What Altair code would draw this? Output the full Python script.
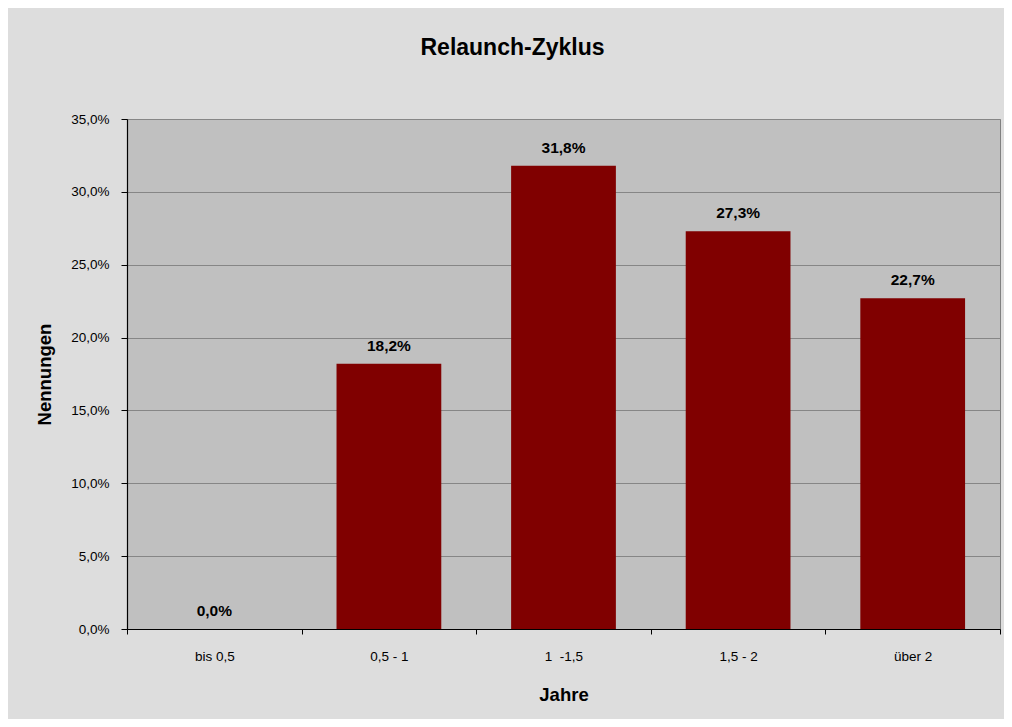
import altair as alt
import pandas as pd

categories = ["bis 0,5", "0,5 - 1", "1\u00a0 -1,5", "1,5 - 2", "über 2"]
values = [0.0, 18.2, 31.8, 27.3, 22.7]
y_ticks = [0, 5, 10, 15, 20, 25, 30, 35]

labels = [f"{v:.1f}".replace(".", ",") + "%" for v in values]
df = pd.DataFrame({"cat": categories, "val": values, "lab": labels})

FONT = "Liberation Sans"

x_enc = alt.X("cat:N", sort=categories,
              scale=alt.Scale(paddingInner=0, paddingOuter=0),
              axis=alt.Axis(title="Jahre", labelAngle=0, tickBand="extent",
                            labelFontSize=13.5, labelFont=FONT, labelColor="#000000",
                            labelPadding=15, tickSize=5, tickColor="#000000",
                            domainColor="#000000", domainWidth=1.2,
                            titleFontSize=18.5, titleFont=FONT, titleFontWeight="bold",
                            titleColor="#000000", titlePadding=23, grid=False))
y_enc = alt.Y("val:Q", scale=alt.Scale(domain=[0, 35], nice=False),
              axis=alt.Axis(title="Nennungen", values=y_ticks,
                            labelExpr="replace(format(datum.value, '.1f'), '.', ',') + '%'",
                            labelFontSize=13.5, labelFont=FONT, labelColor="#000000",
                            labelPadding=12, tickSize=6, tickColor="#000000",
                            domainColor="#000000", domainWidth=1.2,
                            grid=True, gridColor="#868686", gridWidth=1,
                            titleFontSize=18.5, titleFont=FONT, titleFontWeight="bold",
                            titleColor="#000000", titlePadding=16))

bars = alt.Chart(df).mark_bar(color="#800000", width=alt.RelativeBandSize(0.6)).encode(x=x_enc, y=y_enc)
text = alt.Chart(df).mark_text(font=FONT, fontSize=15.5, fontWeight="bold",
                               color="#000000", baseline="alphabetic", dy=-13).encode(
    x=alt.X("cat:N", sort=categories), y="val:Q", text="lab:N")

chart = alt.layer(bars, text).properties(
    width=873, height=510,
    background="#dddddd",
    autosize=alt.AutoSizeParams(type="none"),
    padding={"left": 119, "top": 111, "right": 4, "bottom": 90},
    title=alt.TitleParams("Relaunch-Zyklus", font=FONT, fontSize=23, fontWeight="bold",
                          color="#000000", anchor="middle", frame="group",
                          dx=-51, offset=52),
).configure_view(fill="#c0c0c0", stroke="#808080", strokeWidth=1)

chart.save("out.html", embed_options={"renderer": "svg", "actions": False})
